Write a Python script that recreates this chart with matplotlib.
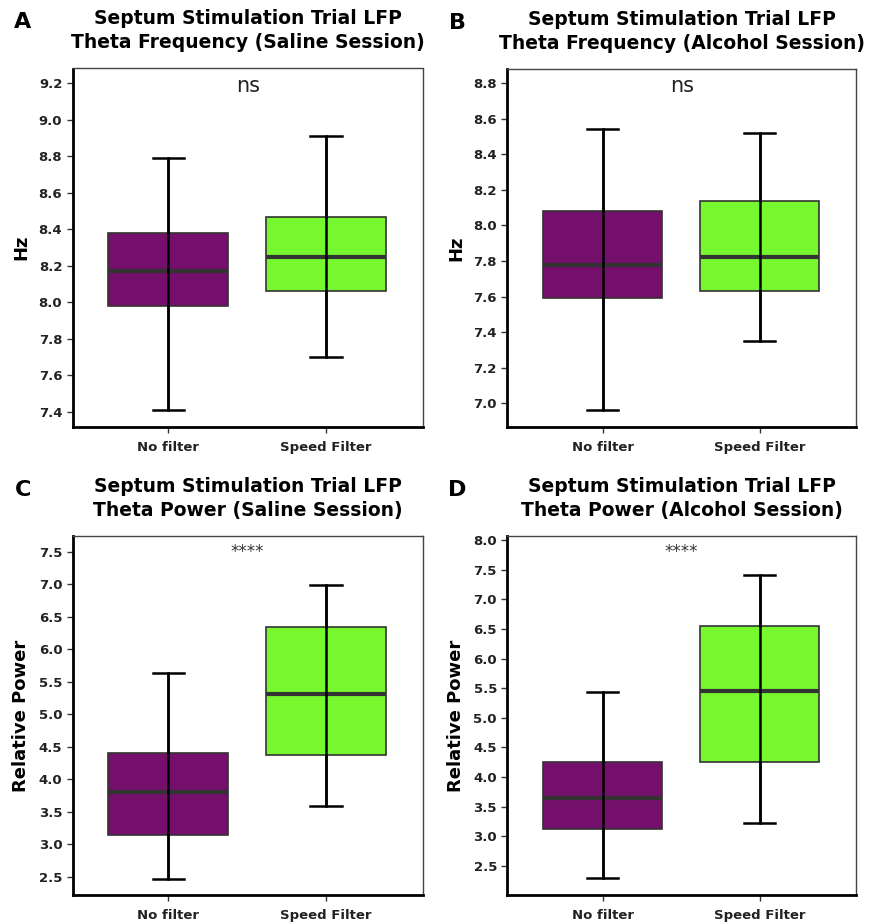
import matplotlib.pyplot as plt

plt.rcParams['font.family'] = ['DejaVu Sans']

groups = ["No filter", "Speed Filter"]
box_colors = ["#74106b", "#77f82e"]

# per panel: (whislo, q1, median, q3, whishi) for each group
freq_saline = [(7.41, 7.98, 8.17, 8.38, 8.79), (7.70, 8.06, 8.25, 8.47, 8.91)]
freq_alcohol = [(6.96, 7.59, 7.78, 8.08, 8.54), (7.35, 7.63, 7.82, 8.14, 8.52)]
power_saline = [(2.47, 3.14, 3.81, 4.40, 5.63), (3.59, 4.38, 5.31, 6.34, 6.98)]
power_alcohol = [(2.30, 3.12, 3.65, 4.26, 5.43), (3.23, 4.26, 5.45, 6.55, 7.41)]

panels = [
    ("A", "Septum Stimulation Trial LFP\nTheta Frequency (Saline Session)", "Hz",
     freq_saline, "ns", (7.318, 9.282), [7.4, 7.6, 7.8, 8.0, 8.2, 8.4, 8.6, 8.8, 9.0, 9.2]),
    ("B", "Septum Stimulation Trial LFP\nTheta Frequency (Alcohol Session)", "Hz",
     freq_alcohol, "ns", (6.868, 8.88), [7.0, 7.2, 7.4, 7.6, 7.8, 8.0, 8.2, 8.4, 8.6, 8.8]),
    ("C", "Septum Stimulation Trial LFP\nTheta Power (Saline Session)", "Relative Power",
     power_saline, "****", (2.22, 7.74), [2.5, 3.0, 3.5, 4.0, 4.5, 5.0, 5.5, 6.0, 6.5, 7.0, 7.5]),
    ("D", "Septum Stimulation Trial LFP\nTheta Power (Alcohol Session)", "Relative Power",
     power_alcohol, "****", (2.01, 8.07), [2.5, 3.0, 3.5, 4.0, 4.5, 5.0, 5.5, 6.0, 6.5, 7.0, 7.5, 8.0]),
]

W, H = 869, 924
fig = plt.figure(figsize=(W / 100, H / 100), dpi=100)

# axes boxes in pixels: left, top, right, bottom
rects = [(72.7, 68.5, 422.7, 426.7), (507.3, 69, 856, 426.7),
         (72.7, 536, 422.7, 895), (507.3, 536, 856, 895)]

for (letter, title, ylabel, stats, sig, ylim, yticks), (l, t, r, b) in zip(panels, rects):
    ax = fig.add_axes([l / W, 1 - b / H, (r - l) / W, (b - t) / H])
    bstats = []
    for name, (lo, q1, med, q3, hi) in zip(groups, stats):
        bstats.append(dict(label=name, whislo=lo, q1=q1, med=med, q3=q3, whishi=hi, fliers=[]))
    bp = ax.bxp(bstats, positions=[1, 2], widths=0.76, patch_artist=True,
                showfliers=False,
                boxprops=dict(edgecolor="#333333", linewidth=1.2),
                medianprops=dict(color="#333333", linewidth=3),
                whiskerprops=dict(color="black", linewidth=1.8),
                capprops=dict(color="black", linewidth=1.8),
                capwidths=0.2)
    for patch, c in zip(bp["boxes"], box_colors):
        patch.set_facecolor(c)
    # whisker line runs through the box
    for pos, (lo, q1, med, q3, hi) in zip([1, 2], stats):
        ax.vlines(pos, lo, hi, color="black", linewidth=1.8, zorder=5)

    ax.set_xlim(0.394, 2.613)
    ax.set_ylim(*ylim)
    ax.set_yticks(yticks)
    ax.set_yticklabels([f"{v:.1f}" for v in yticks])
    ax.set_xticks([1, 2])
    ax.set_xticklabels(groups)
    ax.tick_params(axis="both", labelsize=9.5, colors="#333333", length=4, width=1,
                   labelcolor="#222222")
    ax.tick_params(axis="x", pad=6)
    for lab in ax.get_xticklabels() + ax.get_yticklabels():
        lab.set_fontweight("bold")
    ax.set_ylabel(ylabel, fontsize=13, fontweight="bold", labelpad=6)

    ax.spines["left"].set_linewidth(2)
    ax.spines["bottom"].set_linewidth(2)
    ax.spines["left"].set_color("black")
    ax.spines["bottom"].set_color("black")
    ax.spines["top"].set_color("#444444")
    ax.spines["right"].set_color("#444444")
    ax.spines["top"].set_linewidth(1)
    ax.spines["right"].set_linewidth(1)

    if sig == "ns":
        ax.text(0.5, 0.952, sig, transform=ax.transAxes, ha="center", va="center",
                fontsize=15, color="#222222")
    else:
        ax.text(0.5, 0.955, sig, transform=ax.transAxes, ha="center", va="center",
                fontsize=12, color="#333333")

    ax.set_title(title, fontsize=13.5, fontweight="bold", pad=14.5, linespacing=1.35)
    fig.text((l - 50) / W, 1 - (t - 46) / H, letter, fontsize=16, fontweight="bold",
             ha="center", va="center")

fig.savefig("out.png", dpi=100)
